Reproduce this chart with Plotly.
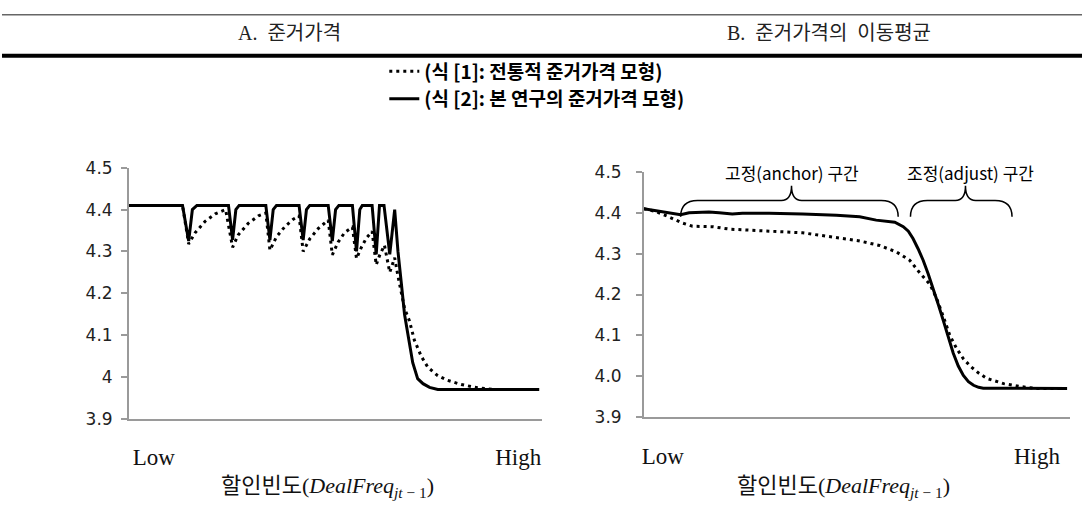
import plotly.graph_objects as go

# ---------------- data ----------------
# Panel A: reference price (x = deal frequency, 0 = Low ... 100 = High)
a_trad_x = [0, 13.1, 14.6, 16.2, 18.6, 21.1, 23.6, 25.3, 26.7, 29.1, 31.6, 33.4, 34.4, 36.0, 38.1,
            40.1, 41.5, 42.5, 44.1, 46.2, 48.6, 49.6, 51.0, 52.6, 54.5, 55.5, 56.7, 57.9, 59.3,
            60.3, 61.1, 62.3, 63.6, 64.8, 65.6, 67.2, 68.4, 69.6, 71.3, 72.9, 75.3, 77.7, 81.0,
            85.0, 89.1, 100]
a_trad_y = [4.41, 4.41, 4.318, 4.345, 4.372, 4.39, 4.40, 4.31, 4.34, 4.367, 4.385, 4.392, 4.303,
            4.335, 4.36, 4.377, 4.385, 4.30, 4.33, 4.355, 4.375, 4.292, 4.322, 4.345, 4.358, 4.283,
            4.31, 4.332, 4.348, 4.268, 4.29, 4.315, 4.25, 4.285, 4.241, 4.164, 4.134, 4.088, 4.049,
            4.023, 4.003, 3.992, 3.982, 3.974, 3.970, 3.97]

a_prop_x = [0, 13.1, 14.6, 15.5, 16.6, 24.3, 25.3, 26.1, 26.9, 33.4, 34.4, 35.2, 36.0, 41.5, 42.5,
            43.3, 44.1, 48.6, 49.6, 50.4, 51.2, 54.5, 55.5, 56.3, 56.9, 59.3, 60.3, 61.1, 62.2,
            63.6, 64.8, 65.6, 66.4, 67.2, 68.0, 69.2, 70.4, 71.7, 73.3, 75.3, 100]
a_prop_y = [4.41, 4.41, 4.325, 4.40, 4.41, 4.41, 4.328, 4.40, 4.41, 4.41, 4.327, 4.40, 4.41, 4.41,
            4.327, 4.40, 4.41, 4.41, 4.325, 4.40, 4.41, 4.41, 4.30, 4.40, 4.41, 4.41, 4.293, 4.41,
            4.41, 4.293, 4.40, 4.30, 4.226, 4.15, 4.103, 4.034, 3.996, 3.984, 3.975, 3.97, 3.97]

# Panel B: moving average of reference price
b_trad_x = [0, 2.8, 5.9, 9.1, 11.5, 16.2, 20.2, 23.3, 29.6, 37.5, 45.5, 51.0, 55.7, 59.7, 62.8,
            65.2, 67.6, 69.2, 70.8, 72.3, 73.9, 75.5, 77.1, 79.1, 81.0, 85.0, 88.9, 92.9, 100]
b_trad_y = [4.41, 4.403, 4.39, 4.375, 4.367, 4.366, 4.36, 4.358, 4.355, 4.351, 4.339, 4.331, 4.32,
            4.304, 4.284, 4.253, 4.225, 4.19, 4.145, 4.10, 4.068, 4.043, 4.025, 4.008, 3.995,
            3.982, 3.975, 3.97, 3.97]

b_prop_x = [0, 8.7, 10.7, 15.4, 17.8, 20.9, 23.3, 29.6, 37.5, 45.5, 51.0, 54.9, 59.3, 61.3, 62.5,
            63.6, 64.8, 66.0, 67.2, 68.4, 69.6, 70.8, 71.9, 73.1, 74.3, 75.5, 76.7, 77.9, 79.1,
            80.2, 100]
b_prop_y = [4.41, 4.395, 4.40, 4.402, 4.40, 4.397, 4.399, 4.399, 4.397, 4.394, 4.39, 4.382, 4.377,
            4.366, 4.355, 4.337, 4.312, 4.284, 4.25, 4.214, 4.175, 4.135, 4.095, 4.057, 4.025,
            4.002, 3.987, 3.978, 3.973, 3.971, 3.97]

series_names = ["(식 [1]: 전통적 준거가격 모형)", "(식 [2]: 본 연구의 준거가격 모형)"]
panel_titles = ["A.&nbsp; 준거가격", "B.&nbsp; 준거가격의&nbsp; 이동평균"]
y_ticks = [3.9, 4.0, 4.1, 4.2, 4.3, 4.4, 4.5]
y_ticktext_a = ["3.9", "4", "4.1", "4.2", "4.3", "4.4", "4.5"]
y_ticktext_b = ["3.9", "4.0", "4.1", "4.2", "4.3", "4.4", "4.5"]
x_ticktext = ["Low", "High"]
x_tickpos_a = [6.1, 94.9]
x_tickpos_b = [4.5, 92.9]
x_title = "할인빈도(<i>DealFreq</i><sub><i>jt</i> − 1</sub>)"

# brace regions in panel B (x range start, tip, end)
brace_labels = ["고정(anchor) 구간", "조정(adjust) 구간"]
brace_x = [(8.7, 34.9, 60.1), (63.0, 76.0, 87.0)]
brace_label_x = [35.1, 77.1]

# ---------------- figure ----------------
W, H = 1082, 525
fig = go.Figure()

DOT = "3px,4px"
fig.add_trace(go.Scatter(x=a_trad_x, y=a_trad_y, mode="lines", name=series_names[0],
                         line=dict(color="black", width=3, dash=DOT), legendgroup="g1",
                         xaxis="x", yaxis="y"))
fig.add_trace(go.Scatter(x=a_prop_x, y=a_prop_y, mode="lines", name=series_names[1],
                         line=dict(color="black", width=3), legendgroup="g2",
                         xaxis="x", yaxis="y"))
fig.add_trace(go.Scatter(x=b_trad_x, y=b_trad_y, mode="lines", name=series_names[0],
                         line=dict(color="black", width=3, dash=DOT), showlegend=False,
                         legendgroup="g1", xaxis="x2", yaxis="y2"))
fig.add_trace(go.Scatter(x=b_prop_x, y=b_prop_y, mode="lines", name=series_names[1],
                         line=dict(color="black", width=3), showlegend=False,
                         legendgroup="g2", xaxis="x2", yaxis="y2"))

AXC = "#9a9a9a"
tickfont = dict(family="DejaVu Sans", size=17, color="#222")
xtickfont = dict(family="Liberation Serif", size=23, color="#111")

def yaxis(domain, ticktext, anchor, standoff):
    return dict(domain=domain, range=[3.9, 4.5], tickvals=y_ticks, ticktext=ticktext,
                showgrid=False, zeroline=False, showline=True, linecolor=AXC, linewidth=1.5,
                ticks="outside", ticklen=6, tickcolor=AXC, tickwidth=1.5, tickfont=tickfont,
                anchor=anchor, ticklabelstandoff=standoff, fixedrange=True)

def xaxis(domain, tickpos, anchor):
    return dict(domain=domain, range=[0, 100.7], tickvals=tickpos, ticktext=x_ticktext,
                showgrid=False, zeroline=False, showline=True, linecolor=AXC, linewidth=1.5,
                ticks="", tickfont=xtickfont, anchor=anchor, ticklabelstandoff=17,
                fixedrange=True)

fig.update_layout(
    width=W, height=H, margin=dict(l=0, r=0, t=0, b=0, pad=0),
    paper_bgcolor="white", plot_bgcolor="white",
    xaxis=xaxis([127 / W, 541 / W], x_tickpos_a, "y"),
    yaxis=yaxis([1 - 425 / H, 1 - 164 / H], y_ticktext_a, "x", 5),
    xaxis2=xaxis([643 / W, 1070 / W], x_tickpos_b, "y2"),
    yaxis2=yaxis([1 - 423.3 / H, 1 - 168.3 / H], y_ticktext_b, "x2", 11),
    showlegend=True,
    legend=dict(x=383 / W, y=1 - 44 / H, xanchor="left", yanchor="top",
                font=dict(family="Noto Sans CJK KR", size=19, color="black", weight=700),
                bgcolor="rgba(0,0,0,0)", traceorder="grouped", tracegroupgap=0,
                itemwidth=30),
)

# header rules
fig.add_shape(type="line", xref="paper", yref="paper", x0=0, x1=1, y0=1 - 5 / H, y1=1 - 5 / H,
              line=dict(color="#666", width=1.5))
fig.add_shape(type="line", xref="paper", yref="paper", x0=0, x1=1, y0=1 - 47.5 / H,
              y1=1 - 47.5 / H, line=dict(color="black", width=4))

# panel headers
for cx, t in zip([288, 829], panel_titles):
    fig.add_annotation(x=cx / W, y=1 - 24 / H, xref="paper", yref="paper", text=t,
                       showarrow=False, xanchor="center", yanchor="middle",
                       font=dict(family="Liberation Serif, Noto Sans CJK KR", size=20,
                                 color="#222"))

# x-axis titles
for cx in [326, 843]:
    fig.add_annotation(x=cx / W, y=1 - 496 / H, xref="paper", yref="paper", text=x_title,
                       showarrow=False, xanchor="center", yanchor="middle",
                       font=dict(family="Liberation Serif, Noto Sans CJK KR", size=22,
                                 color="#111"))

# braces in panel B
y_end, y_flat, y_tip = 4.39, 4.43, 4.466
for (xa, xm, xb) in brace_x:
    d, e = 4.0, 2.4
    path = (f"M {xa},{y_end} Q {xa},{y_flat} {xa + d},{y_flat} L {xm - e},{y_flat} "
            f"Q {xm},{y_flat} {xm},{y_tip} Q {xm},{y_flat} {xm + e},{y_flat} "
            f"L {xb - d},{y_flat} Q {xb},{y_flat} {xb},{y_end}")
    fig.add_shape(type="path", xref="x2", yref="y2", path=path,
                  line=dict(color="black", width=1.5))
for lx, t in zip(brace_label_x, brace_labels):
    fig.add_annotation(x=lx, y=4.498, xref="x2", yref="y2", text=t, showarrow=False,
                       xanchor="center", yanchor="middle",
                       font=dict(family="Noto Sans CJK KR", size=17, color="black"))

fig.write_html("out.html")
